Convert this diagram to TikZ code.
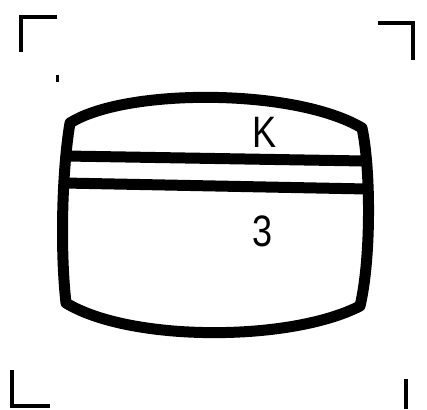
\documentclass[tikz,border=0pt]{standalone}
\usepackage{fontspec}
\setmainfont{Liberation Sans}
\begin{document}
\begin{tikzpicture}[x=1pt,y=-1pt,
  outline/.style={line width=11pt,line join=round,black},
  band/.style={line width=11pt,black},
  cropmark/.style={line width=4.5pt,black},
  lab/.style={inner sep=0pt,font=\fontsize{44}{44}\selectfont,xscale=0.82}]
\useasboundingbox (0,0) rectangle (427,409);
% crop marks
\draw[cropmark] (21,52) -- (21,17) -- (57,17);
\draw[cropmark] (378,23) -- (413,23) -- (413,60);
\draw[cropmark] (12,370) -- (12,406) -- (50,406);
\draw[cropmark] (406,379) -- (406,409);
\fill (55.5,75) rectangle (59,82);
% outline
\coordinate (tl) at (70,123);
\coordinate (tr) at (362,128);
\coordinate (br) at (360,306);
\coordinate (bl) at (66,303);
\draw[outline] (tl) .. controls (125,88) and (295,88) .. (tr)
  .. controls (371,170) and (371,260) .. (br)
  .. controls (290,342) and (130,342) .. (bl)
  .. controls (60,250) and (62,170) .. (tl) -- cycle;
% bands
\coordinate (b1l) at (66,156);
\coordinate (b1r) at (364,161);
\coordinate (b2l) at (64,183);
\coordinate (b2r) at (367,189);
\draw[band] (b1l) -- (b1r);
\draw[band] (b2l) -- (b2r);
% labels
\node[lab] (k) at (265,132) {K};
\node[lab] (three) at (263,231) {3};
\end{tikzpicture}
\end{document}
